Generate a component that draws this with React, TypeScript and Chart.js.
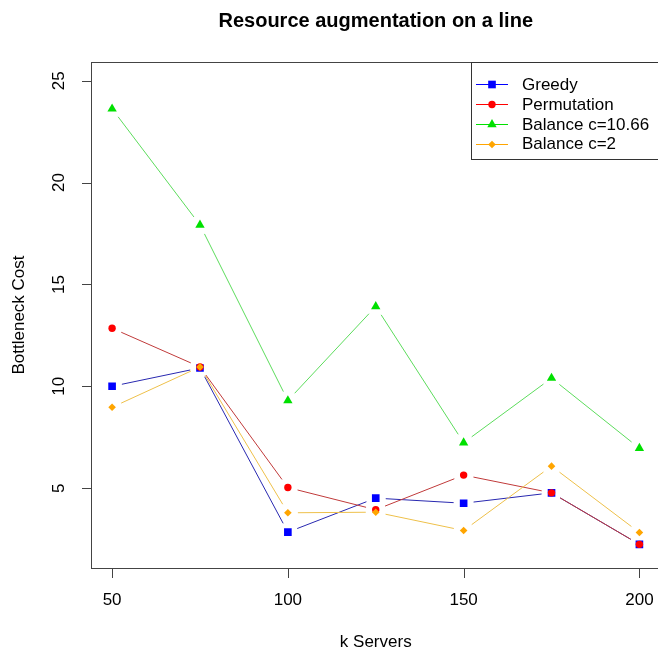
import React, { useEffect, useRef } from 'react';
import { Chart, registerables } from 'chart.js';

Chart.register(...registerables);

// ---- data ----
const kServers = [50, 75, 100, 125, 150, 175, 200];
const greedy = [10.0, 10.9, 2.84, 4.51, 4.26, 4.77, 2.24];
const permutation = [12.85, 10.95, 5.03, 3.94, 5.64, 4.77, 2.24];
const balance1066 = [23.62, 17.92, 9.3, 13.92, 7.23, 10.4, 6.96];
const balance2 = [8.97, 10.95, 3.79, 3.82, 2.92, 6.08, 2.82];
const seriesNames = ['Greedy', 'Permutation', 'Balance c=10.66', 'Balance c=2'];
const xTicks = [50, 100, 150, 200];
const yTicks = [5, 10, 15, 20, 25];
const titleText = 'Resource augmentation on a line';
const xTitle = 'k Servers';
const yTitle = 'Bottleneck Cost';

const FONT = '"Liberation Sans", Arial, sans-serif';
const GAP = 10;

type Style = { color: string; line: string; shape: string; size: number };
const styles: Style[] = [
  { color: '#0000FF', line: '#2828B0', shape: 'square', size: 5.4 },
  { color: '#FF0000', line: '#C03A3A', shape: 'circle', size: 3.7 },
  { color: '#00E000', line: '#5CDC5C', shape: 'triangle', size: 5.4 },
  { color: '#FFA500', line: '#EEC04A', shape: 'diamond', size: 3.8 },
];
const chartStyle = ['rect', 'circle', 'triangle', 'rectRot'];

function drawMarker(ctx: CanvasRenderingContext2D, s: Style, x: number, y: number) {
  ctx.fillStyle = s.color;
  ctx.beginPath();
  const r = s.size;
  if (s.shape === 'square') {
    const h = r * Math.SQRT1_2;
    ctx.rect(x - h, y - h, 2 * h, 2 * h);
  } else if (s.shape === 'circle') {
    ctx.arc(x, y, r, 0, Math.PI * 2);
  } else if (s.shape === 'triangle') {
    ctx.moveTo(x, y - r);
    ctx.lineTo(x + r * Math.cos(Math.PI / 6), y + r / 2);
    ctx.lineTo(x - r * Math.cos(Math.PI / 6), y + r / 2);
    ctx.closePath();
  } else {
    ctx.moveTo(x - r, y);
    ctx.lineTo(x, y - r);
    ctx.lineTo(x + r, y);
    ctx.lineTo(x, y + r);
    ctx.closePath();
  }
  ctx.fill();
}

const gapLines = {
  id: 'gapLines',
  beforeDatasetDraw(chart: any, args: any) {
    const s = styles[args.index];
    const pts = args.meta.data;
    const ctx = chart.ctx as CanvasRenderingContext2D;
    ctx.save();
    ctx.strokeStyle = s.line;
    ctx.lineWidth = 1;
    ctx.beginPath();
    for (let i = 0; i < pts.length - 1; i++) {
      const a = pts[i];
      const b = pts[i + 1];
      const dx = b.x - a.x;
      const dy = b.y - a.y;
      const len = Math.hypot(dx, dy);
      if (len <= 2 * GAP) continue;
      const ux = dx / len;
      const uy = dy / len;
      ctx.moveTo(a.x + ux * GAP, a.y + uy * GAP);
      ctx.lineTo(b.x - ux * GAP, b.y - uy * GAP);
    }
    ctx.stroke();
    ctx.restore();
  },
};

const frame = {
  id: 'frame',
  afterDraw(chart: any) {
    const ctx = chart.ctx as CanvasRenderingContext2D;
    const { left, right, top, bottom } = chart.chartArea;
    const xs = chart.scales.x;
    const ys = chart.scales.y;
    ctx.save();
    ctx.strokeStyle = '#444';
    ctx.lineWidth = 1;
    // box
    ctx.strokeRect(Math.round(left) + 0.5, Math.round(top) + 0.5, Math.round(right - left), Math.round(bottom - top));
    // ticks
    ctx.beginPath();
    for (const v of xTicks) {
      const px = Math.round(xs.getPixelForValue(v)) + 0.5;
      ctx.moveTo(px, Math.round(bottom) + 0.5);
      ctx.lineTo(px, Math.round(bottom) + 10);
    }
    for (const v of yTicks) {
      const py = Math.round(ys.getPixelForValue(v)) + 0.5;
      ctx.moveTo(Math.round(left) + 0.5, py);
      ctx.lineTo(Math.round(left) - 9, py);
    }
    ctx.stroke();

    ctx.fillStyle = '#000';
    ctx.font = `17px ${FONT}`;
    ctx.textAlign = 'center';
    ctx.textBaseline = 'middle';
    for (const v of xTicks) {
      ctx.fillText(String(v), xs.getPixelForValue(v), 600);
    }
    for (const v of yTicks) {
      ctx.save();
      ctx.translate(59, ys.getPixelForValue(v));
      ctx.rotate(-Math.PI / 2);
      ctx.fillText(String(v), 0, 0);
      ctx.restore();
    }
    // axis titles
    ctx.fillText(xTitle, (left + right) / 2, 642);
    ctx.save();
    ctx.translate(19, (top + bottom) / 2);
    ctx.rotate(-Math.PI / 2);
    ctx.fillText(yTitle, 0, 0);
    ctx.restore();
    // title
    ctx.font = `bold 20px ${FONT}`;
    ctx.fillText(titleText, (left + right) / 2, 21);

    // legend
    const lx = 471.5;
    const ly = Math.round(top) + 0.5;
    ctx.strokeStyle = '#333';
    ctx.strokeRect(lx, ly, Math.round(right) - lx + 0.5, 97);
    ctx.font = `17px ${FONT}`;
    ctx.textAlign = 'left';
    const rows = [84, 104, 124, 143.5];
    seriesNames.forEach((name, i) => {
      const s = styles[i];
      const y = rows[i];
      ctx.strokeStyle = s.color;
      ctx.beginPath();
      ctx.moveTo(476, Math.round(y) + 0.5);
      ctx.lineTo(508, Math.round(y) + 0.5);
      ctx.stroke();
      drawMarker(ctx, s, 492, Math.round(y) + 0.5);
      ctx.fillStyle = '#000';
      ctx.fillText(name, 522, y + 1);
    });
    ctx.restore();
  },
};

export default function App() {
  const ref = useRef<HTMLCanvasElement | null>(null);
  useEffect(() => {
    if (!ref.current) return;
    const series = [greedy, permutation, balance1066, balance2];
    const chart = new Chart(ref.current, {
      type: 'line',
      data: {
        datasets: series.map((vals, i) => ({
          label: seriesNames[i],
          data: kServers.map((x, j) => ({ x, y: vals[j] })),
          showLine: false,
          pointStyle: chartStyle[i] as any,
          pointRadius: styles[i].size,
          pointBackgroundColor: styles[i].color,
          pointBorderColor: styles[i].color,
          pointBorderWidth: 0,
          borderColor: styles[i].line,
          backgroundColor: styles[i].color,
          order: 3 - i,
        })),
      },
      options: {
        animation: false,
        responsive: false,
        devicePixelRatio: 1,
        layout: { autoPadding: false, padding: { left: 91, right: 1.5, top: 62, bottom: 82 } },
        plugins: { legend: { display: false }, title: { display: false }, tooltip: { enabled: false } },
        events: [],
        scales: {
          x: { type: 'linear', min: 44, max: 206, display: false },
          y: { type: 'linear', min: 1.08, max: 25.92, display: false },
        },
      },
      plugins: [gapLines, frame],
    });
    return () => chart.destroy();
  }, []);
  return (
    <div style={{ position: 'absolute', left: 0, top: 0, width: 658, height: 650, overflow: 'hidden', background: '#fff' }}>
      <canvas ref={ref} width={662} height={650} style={{ display: 'block' }} />
    </div>
  );
}
